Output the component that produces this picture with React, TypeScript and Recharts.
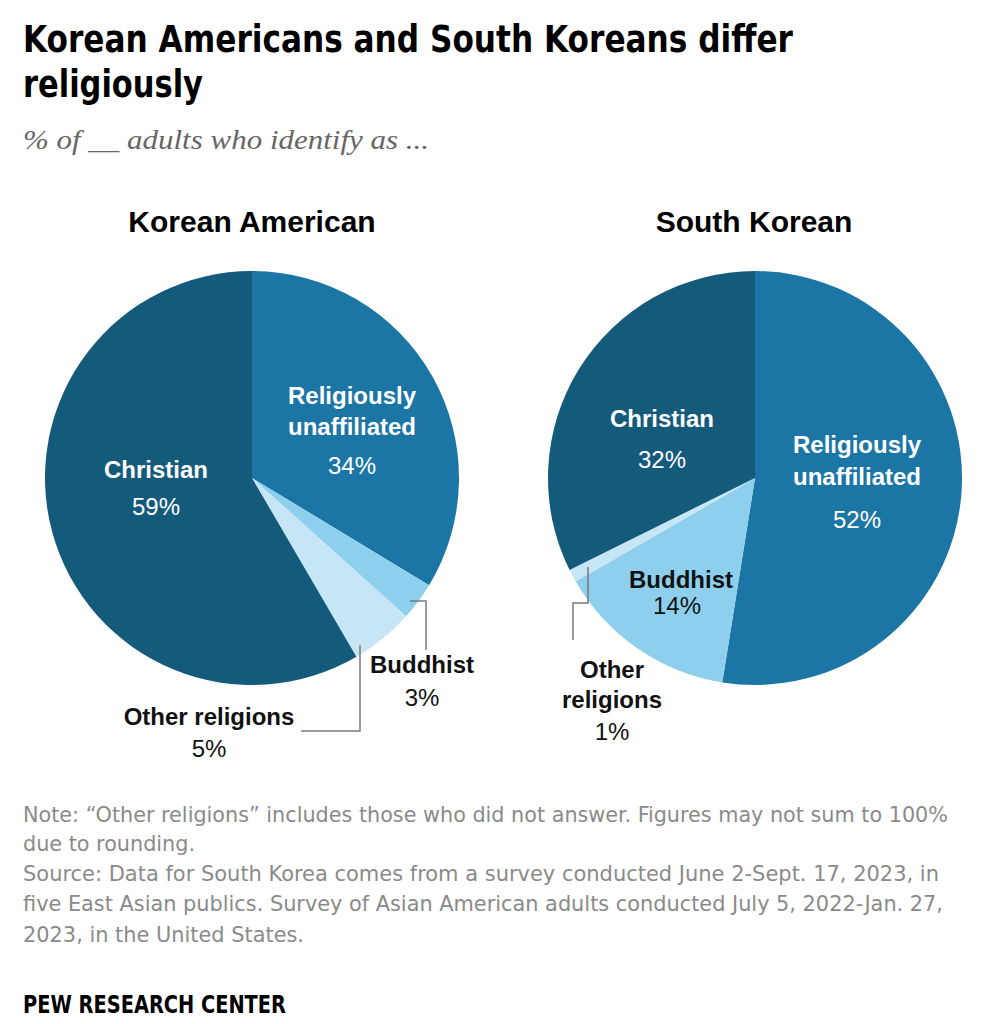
import { PieChart, Pie, Cell } from 'recharts';

// religion categories, in clockwise order from 12 o'clock
const categories = ['Religiously unaffiliated', 'Buddhist', 'Other religions', 'Christian'];
const koreanAmericanValues = [34, 3, 5, 59];
const southKoreanValues = [52, 14, 1, 32];

const sliceColors = ['#1c76a5', '#8ecfee', '#c6e6f6', '#145a7b'];

const koreanAmericanData = categories.map((name, i) => ({ name, value: koreanAmericanValues[i] }));
const southKoreanData = categories.map((name, i) => ({ name, value: southKoreanValues[i] }));

const LABEL_FONT = "'Liberation Sans', Arial, sans-serif";
const NARROW_FONT = "'DejaVu Sans Condensed', 'DejaVu Sans', sans-serif";

type LabelLayout = {
  dx: number;
  nameLines: string[];
  nameDy: number[];
  pctDx?: number;
  pctDy: number;
  color: string;
  leader?: [number, number][];
};

// label placement relative to the pie centre
const leftLayout: LabelLayout[] = [
  { dx: 100, nameLines: ['Religiously', 'unaffiliated'], nameDy: [-74, -43], pctDy: -4, color: '#fff' },
  { dx: 170, nameLines: ['Buddhist'], nameDy: [195], pctDy: 228, color: '#111',
    leader: [[158, 123], [174, 123], [174, 172]] },
  { dx: -43, nameLines: ['Other religions'], nameDy: [247], pctDy: 279, color: '#111',
    leader: [[108, 167], [108, 253], [49, 253]] },
  { dx: -96, nameLines: ['Christian'], nameDy: [0], pctDy: 37, color: '#fff' },
];

const rightLayout: LabelLayout[] = [
  { dx: 102, nameLines: ['Religiously', 'unaffiliated'], nameDy: [-25, 7], pctDy: 50, color: '#fff' },
  { dx: -74, nameLines: ['Buddhist'], nameDy: [110], pctDx: -78, pctDy: 136, color: '#111' },
  { dx: -143, nameLines: ['Other', 'religions'], nameDy: [200, 230], pctDy: 262, color: '#111',
    leader: [[-167, 89], [-167, 125], [-182, 125], [-182, 162]] },
  { dx: -93, nameLines: ['Christian'], nameDy: [-51], pctDy: -10, color: '#fff' },
];

function makeLabel(layout: LabelLayout[]) {
  return (props: any) => {
    const { cx, cy, index, value } = props;
    const l = layout[index];
    return (
      <g key={`lbl-${index}`}>
        {l.leader && (
          <polyline
            points={l.leader.map(([x, y]) => `${cx + x},${cy + y}`).join(' ')}
            fill="none"
            stroke="#7a7a7a"
            strokeWidth={1.5}
          />
        )}
        {l.nameLines.map((t, i) => (
          <text key={t} x={cx + l.dx} y={cy + l.nameDy[i]} textAnchor="middle" fill={l.color}
            style={{ fontFamily: LABEL_FONT, fontWeight: 700, fontSize: 24 }}>
            {t}
          </text>
        ))}
        <text x={cx + (l.pctDx ?? l.dx)} y={cy + l.pctDy} textAnchor="middle" fill={l.color}
          style={{ fontFamily: LABEL_FONT, fontWeight: 400, fontSize: 24 }}>
          {`${value}%`}
        </text>
      </g>
    );
  };
}

const footerLines = [
  'Note: \u201cOther religions\u201d includes those who did not answer. Figures may not sum to 100%',
  'due to rounding.',
  'Source: Data for South Korea comes from a survey conducted June 2-Sept. 17, 2023, in',
  'five East Asian publics. Survey of Asian American adults conducted July 5, 2022-Jan. 27,',
  '2023, in the United States.',
];
const footerBaselines = [822, 851, 881, 911, 942];
const footerWidths = [925, 172, 916, 920, 281];

export default function App() {
  return (
    <div style={{ position: 'absolute', left: 0, top: 0, width: 982, height: 1024, background: '#fff' }}>
      <div style={{ position: 'absolute', left: 0, top: 0 }}>
        <PieChart width={982} height={800} margin={{ top: 0, right: 0, bottom: 0, left: 0 }}>
          <Pie
            data={koreanAmericanData}
            dataKey="value"
            cx={252}
            cy={478}
            outerRadius={207}
            startAngle={90}
            endAngle={-270}
            stroke="none"
            label={makeLabel(leftLayout)}
            labelLine={false}
            isAnimationActive={false}
          >
            {koreanAmericanData.map((d, i) => <Cell key={d.name} fill={sliceColors[i]} />)}
          </Pie>
          <Pie
            data={southKoreanData}
            dataKey="value"
            cx={755}
            cy={478}
            outerRadius={207}
            startAngle={90}
            endAngle={-270}
            stroke="none"
            label={makeLabel(rightLayout)}
            labelLine={false}
            isAnimationActive={false}
          >
            {southKoreanData.map((d, i) => <Cell key={d.name} fill={sliceColors[i]} />)}
          </Pie>
        </PieChart>
      </div>
      <svg width={982} height={1024} style={{ position: 'absolute', left: 0, top: 0, pointerEvents: 'none' }}>
        <text x={23} y={52} fill="#000" textLength={770} lengthAdjust="spacingAndGlyphs"
          style={{ fontFamily: NARROW_FONT, fontWeight: 700, fontSize: 37 }}>
          Korean Americans and South Koreans differ
        </text>
        <text x={23} y={97} fill="#000" textLength={180} lengthAdjust="spacingAndGlyphs"
          style={{ fontFamily: NARROW_FONT, fontWeight: 700, fontSize: 37 }}>
          religiously
        </text>
        <text x={23} y={149} fill="#666" textLength={406} lengthAdjust="spacingAndGlyphs"
          style={{ fontFamily: "'Liberation Serif', serif", fontStyle: 'italic', fontSize: 27 }}>
          % of __ adults who identify as ...
        </text>
        <text x={252} y={232} textAnchor="middle" fill="#000" style={{ fontFamily: LABEL_FONT, fontWeight: 700, fontSize: 30 }}>
          Korean American
        </text>
        <text x={754} y={232} textAnchor="middle" fill="#000" style={{ fontFamily: LABEL_FONT, fontWeight: 700, fontSize: 30 }}>
          South Korean
        </text>
        {footerLines.map((t, i) => (
          <text key={i} x={23} y={footerBaselines[i]} fill="#8a8a8a" textLength={footerWidths[i]}
            lengthAdjust="spacingAndGlyphs" style={{ fontFamily: NARROW_FONT, fontSize: 22 }}>
            {t}
          </text>
        ))}
        <text x={23} y={1013} fill="#000" textLength={263} lengthAdjust="spacingAndGlyphs"
          style={{ fontFamily: NARROW_FONT, fontWeight: 700, fontSize: 24 }}>
          PEW RESEARCH CENTER
        </text>
      </svg>
    </div>
  );
}
